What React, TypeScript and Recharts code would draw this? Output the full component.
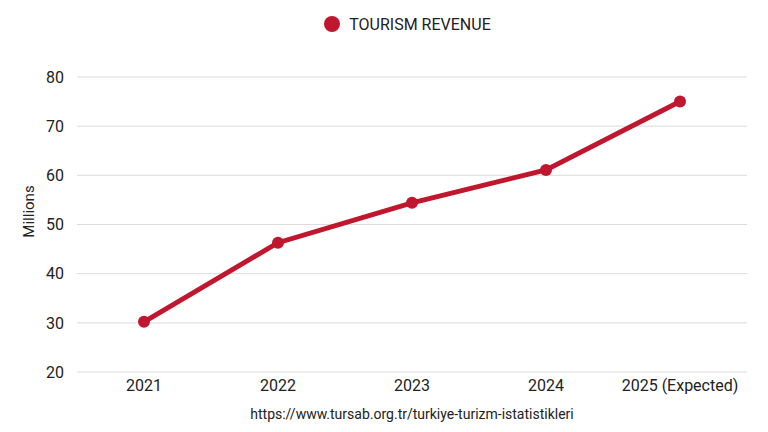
import React from "react";
import {
  LineChart,
  Line,
  XAxis,
  YAxis,
  CartesianGrid,
  Legend,
} from "recharts";

const years = ["2021", "2022", "2023", "2024", "2025 (Expected)"];
const revenue = [30.2, 46.3, 54.4, 61.1, 75];
const yTicks = [20, 30, 40, 50, 60, 70, 80];

const data = years.map((year, i) => ({ year, revenue: revenue[i] }));

const RED = "#c0172f";
const TEXT = "#222";
const FONT = "Roboto, 'Noto Sans', sans-serif";

const LegendContent = () => (
  <div
    style={{
      display: "flex",
      justifyContent: "center",
      alignItems: "center",
      height: 32,
      fontFamily: FONT,
      fontSize: 16,
      color: TEXT,
    }}
  >
    <svg width={18} height={18} style={{ marginRight: 8 }}>
      <circle cx={9} cy={9} r={8} fill={RED} />
    </svg>
    <span>TOURISM REVENUE</span>
  </div>
);

// rotated y-axis title, a bit above the middle of the axis box
const YTitle = ({ viewBox }: any) => {
  const x = viewBox.x + 29;
  const y = viewBox.y + viewBox.height / 2 - 13;
  return (
    <text
      x={x}
      y={y}
      transform={`rotate(-90, ${x}, ${y})`}
      textAnchor="middle"
      dominantBaseline="central"
      fill={TEXT}
      fontSize={15}
      fontFamily={FONT}
    >
      Millions
    </text>
  );
};

const App: React.FC = () => {
  return (
    <div style={{ position: "absolute", left: 0, top: 0, background: "#fff" }}>
      <LineChart
        width={768}
        height={432}
        data={data}
        margin={{ top: 45, right: 21, left: 0, bottom: 0 }}
      >
        <CartesianGrid stroke="#dcdcdc" vertical={false} />
        <XAxis
          dataKey="year"
          height={60}
          padding={{ left: 67, right: 67 }}
          axisLine={false}
          tickLine={false}
          interval={0}
          tick={{ fontSize: 16, fill: TEXT, fontFamily: FONT }}
          label={{
            value: "https://www.tursab.org.tr/turkiye-turizm-istatistikleri",
            position: "insideBottom",
            offset: 13,
            fontSize: 14,
            fill: TEXT,
            fontFamily: FONT,
          }}
        />
        <YAxis
          width={77}
          domain={[20, 80]}
          ticks={yTicks}
          axisLine={false}
          tickLine={false}
          tickMargin={7}
          tick={{ fontSize: 16, fill: TEXT, fontFamily: FONT }}
          label={<YTitle />}
        />
        <Legend
          verticalAlign="top"
          height={32}
          wrapperStyle={{ top: 8, left: 77, width: 660 }}
          content={<LegendContent />}
        />
        <Line
          type="linear"
          dataKey="revenue"
          name="TOURISM REVENUE"
          stroke={RED}
          strokeWidth={5}
          dot={{ r: 6, fill: RED, stroke: RED, strokeWidth: 0 }}
          activeDot={false}
          isAnimationActive={false}
        />
      </LineChart>
    </div>
  );
};

export default App;
